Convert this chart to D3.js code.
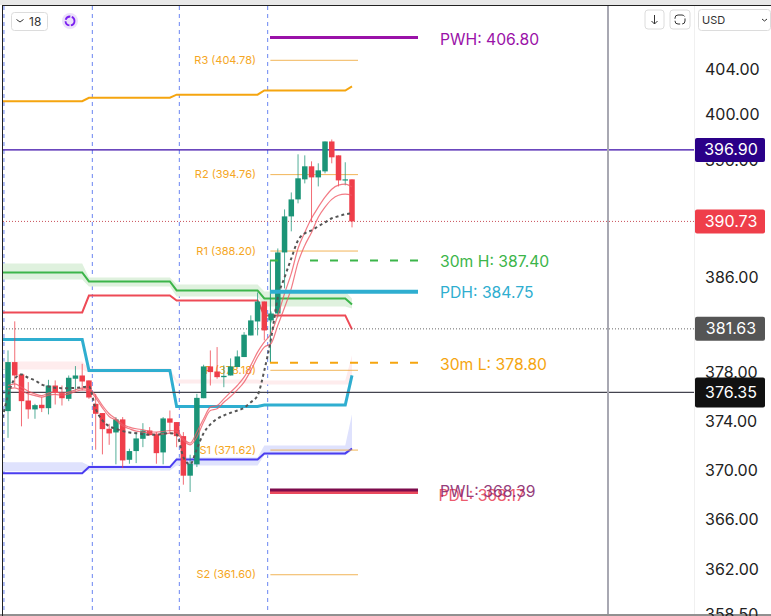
<!DOCTYPE html>
<html><head><meta charset="utf-8">
<script src="https://cdn.jsdelivr.net/npm/d3@7"></script>
<style>html,body{margin:0;padding:0;background:#fff}svg{display:block;font-family:Inter,"Noto Sans",sans-serif}</style>
</head><body><svg id="c" width="771" height="616"></svg>
<script>
const indexStart = 1;
const opens = [374.81,378.86,377.84,375.68,374.95,375.33,375.05,376.92,376.29,375.82,377.48,377.75,377.34,375.41,374.65,373.36,373.06,374.13,370.83,371.54,372.54,373.22,372.95,371.43,374.21,373.91,372.76,369.54,370.46,375.87,378.50,378.08,377.61,377.75,378.45,379.28,381.08,382.25,383.93,382.34,382.92,388.08,391.16,392.62,394.35,395.48,394.52,395.04,397.64,396.43,394.26,394.35];
const highs = [379.83,382.26,377.84,377.20,375.41,375.96,377.39,377.34,376.92,377.75,378.53,378.72,377.34,376.23,374.65,373.77,374.32,374.32,371.73,373.09,373.82,373.50,373.09,374.32,374.86,373.91,373.09,371.24,376.23,378.64,379.83,380.11,378.59,379.17,379.83,381.36,382.76,384.69,383.93,383.09,388.42,391.76,393.22,396.52,396.43,395.91,395.74,397.64,397.81,396.43,395.83,394.35];
const lows = [372.62,376.78,373.56,374.18,374.18,374.73,374.54,375.35,375.27,375.63,376.51,376.51,375.82,371.65,371.27,372.05,370.46,370.16,370.51,370.56,371.86,372.81,370.51,370.46,372.95,371.86,368.81,368.22,370.24,375.87,376.92,377.48,376.78,377.75,378.45,379.28,381.08,381.08,380.67,382.17,382.59,385.03,389.88,392.28,394.00,390.65,393.74,394.87,395.74,393.74,393.83,390.22];
const closes = [378.86,377.75,375.63,374.95,375.30,375.05,376.92,376.31,375.87,377.56,377.75,377.25,375.93,374.59,373.33,372.98,374.13,370.78,371.54,372.57,373.22,372.84,371.37,374.21,373.86,372.76,369.54,370.51,375.90,378.50,378.03,377.61,377.72,378.50,379.33,381.14,382.34,383.93,381.50,382.92,388.08,391.16,392.62,394.44,395.48,394.52,395.13,397.64,396.26,394.26,394.35,390.73];

const sessionBreaks = [0.4,13.5,26.4,39.5];
const stepIndex = [0,12,13,25,26,38,39,51,52];
const pivotOrange = [401.17,401.17,401.47,401.47,401.74,401.74,402.11,402.11,402.47];
const pivotGreen = [386.38,386.38,385.62,385.62,384.86,384.86,384.18,384.18,383.68];
const bandGreenTop = [387.15,387.15,385.96,385.96,385.37,385.37,384.77,384.77,384.18];
const bandGreenBottom = [385.79,385.79,385.20,385.20,384.35,384.35,383.51,383.51,383.34];
const pivotRed = [383.01,383.01,384.43,384.43,384.01,384.01,382.76,382.76,381.59];
const pivotCyan = [380.75,380.75,378.17,378.17,375.19,375.19,375.31,375.31,377.76];
const pivotBlue = [369.73,369.73,370.24,370.24,370.86,370.86,371.35,371.35,371.75];
const bandBlueTop = [370.62,370.62,370.37,370.37,371.02,371.02,372.00,372.00,374.55];
const bandBlueBottom = [369.89,369.89,369.97,369.97,370.37,370.37,371.19,371.19,371.59];
const bandPinkTop = [378.91,378.91,378.33,378.33,377.42,377.42,377.34,377.34,379.42];
const bandPinkBottom = [378.25,378.25,378.00,378.00,377.09,377.09,377.01,377.01,377.01];

const emaDark = [373.77,376.09,377.48,377.84,377.56,377.34,377.00,376.84,376.73,376.70,376.70,376.73,376.78,376.84,375.00,374.05,373.56,373.36,373.17,373.06,373.00,372.92,372.87,372.87,372.95,373.00,372.89,371.05,370.46,371.73,373.00,373.72,374.18,374.45,374.67,374.86,375.08,375.54,376.09,378.17,380.83,384.26,385.96,387.57,389.11,389.71,389.97,390.31,390.65,391.00,391.17,391.34,391.43];
const emaUpper = [376.92,377.06,376.78,376.45,376.23,376.09,376.29,376.37,376.29,376.37,376.56,376.70,376.64,376.09,375.27,374.59,374.18,373.72,373.50,373.36,373.28,373.14,373.09,373.14,373.22,373.17,372.54,372.19,373.09,374.18,375.14,375.27,375.82,376.37,376.92,377.61,378.59,379.69,380.53,381.25,382.76,384.60,386.30,388.42,389.79,391.00,391.95,392.81,393.50,393.85,393.94,393.68];
const emaLower = [376.64,376.73,376.51,376.23,376.09,375.96,376.12,376.18,376.12,376.23,376.42,376.56,376.51,375.90,375.08,374.37,374.05,373.58,373.36,373.17,373.09,373.00,372.89,372.95,373.00,372.95,372.41,372.05,372.68,373.91,374.86,375.00,375.54,376.01,376.56,377.20,378.17,379.28,380.11,380.41,381.92,383.42,385.03,387.23,388.68,389.79,391.08,391.95,392.62,392.98,393.07,392.98];

const pivotNames = ["R3","R2","R1","P","S1","S2"];
const pivotValues = [404.78,394.76,388.20,378.18,371.62,361.60];
const keyNames = ["PWH","30m H","PDH","30m L","PDL","PWL"];
const keyValues = [406.80,387.40,384.75,378.80,368.17,368.39];
const keyColors = ["#9a12a8","#3cb54a","#2faed0","#f5a50f","#ea4a5e","#7d0b4c"];
const keyLabelColors = ["#9a12a8","#3cb54a","#2faed0","#f5a50f","#ea4a5e","#8a2a6e"];
const keyDash = [null,"8 32 8 12 8 12 8 12 8 12 8 12 8 12","","8,12",null,null];
const keyWidths = [3,2,4,2,3,3];
const keyLabelShift = [1.5,1.5,1,1.5,3,1.5];
const keyLabelLeft = [440,440,440,440,438.5,440];
const priceTicks = [404,400,396,386,378,374,370,366,362,358.5];
const flagValues = [396.90,390.73,381.63,376.35];
const flagColors = ["#2a0088","#ef3e4a","#555555","#111111"];
const flagLine = ["#3a0aa8","#c8505a","#666666","#44444f"];
const flagDash = [null,"1,2","1,2",null];
const flagHeights = [24,24,24,30];

const GREEN="#1b9477", RED="#ef3e4a";
const svg=d3.select("#c");
const y=d3.scaleLog().domain([404,358.5]).range([69.1,614]);
const x=d3.scaleLinear().domain([1,52]).range([8,352]);

svg.append("defs").append("clipPath").attr("id","pl").append("rect").attr("x",3).attr("y",6).attr("width",692).attr("height",608);
const g=svg.append("g").attr("clip-path","url(#pl)");

// session separators
g.selectAll(".sess").data(sessionBreaks).join("line").attr("x1",x).attr("x2",x).attr("y1",6).attr("y2",614)
 .attr("stroke","#6a85f2").attr("stroke-width",1).attr("stroke-dasharray","4,4");

// bands
function band(top,bottom,fill){
 const a=d3.area().x((d,i)=>x(stepIndex[i])).y0((d,i)=>y(bottom[i])).y1(d=>y(d));
 g.append("path").attr("d",a(top)).attr("fill",fill);
}
band(bandGreenTop,bandGreenBottom,"#dff1de");
band(bandPinkTop,bandPinkBottom,"#feeced");
band(bandBlueTop,bandBlueBottom,"#dfe2fd");

const stepLine=d3.line().x((d,i)=>x(stepIndex[i])).y(d=>y(d));
[[pivotOrange,"#f5a50f",2],[pivotGreen,"#3cb54a",2],[pivotRed,"#ee4a56",2],[pivotCyan,"#2faed0",3],[pivotBlue,"#4a3df0",2]].forEach(([v,c,w])=>{
 g.append("path").attr("d",stepLine(v)).attr("fill","none").attr("stroke",c).attr("stroke-width",w);
});

// full-width price lines
g.selectAll(".flag").data(flagValues).join("line").attr("x1",0).attr("x2",695).attr("y1",y).attr("y2",y)
 .attr("stroke",(d,i)=>flagLine[i]).attr("stroke-width",(d,i)=>flagDash[i]?1:1.2).attr("stroke-dasharray",(d,i)=>flagDash[i]);

// pivot lines and labels sit under the candles
g.selectAll(".piv").data(pivotValues).join("line").attr("x1",x(39.9)).attr("x2",358).attr("y1",y).attr("y2",y)
 .attr("stroke","#f0a93c").attr("stroke-width",1).attr("opacity",.85);
g.selectAll(".pivT").data(pivotValues).join("text").attr("x",256).attr("y",d=>y(d)+3.5).attr("text-anchor","end")
 .attr("fill","#f5a623").attr("font-size",11).text((d,i)=>`${pivotNames[i]} (${d.toFixed(2)})`);

// range connector
g.append("line").attr("x1",x(39.9)).attr("x2",x(39.9)).attr("y1",y(387.40)).attr("y2",y(378.80)).attr("stroke",GREEN).attr("stroke-width",1);

// candles
const idx=d3.range(indexStart,indexStart+opens.length);
g.selectAll(".wick").data(idx).join("line").attr("x1",x).attr("x2",x)
 .attr("y1",i=>y(highs[i-1])).attr("y2",i=>y(lows[i-1]))
 .attr("stroke",i=>closes[i-1]>=opens[i-1]?GREEN:RED).attr("stroke-width",1).attr("opacity",.75);
g.selectAll(".body").data(idx).join("rect").attr("x",i=>x(i)-2.75).attr("width",5.5)
 .attr("y",i=>y(Math.max(opens[i-1],closes[i-1])))
 .attr("height",i=>Math.max(1.2,Math.abs(y(opens[i-1])-y(closes[i-1]))))
 .attr("fill",i=>closes[i-1]>=opens[i-1]?GREEN:RED);

// moving averages
const maLine=d3.line().x((d,i)=>x(i+1)).y(d=>y(d)).curve(d3.curveMonotoneX);
g.append("path").attr("d",maLine(emaUpper)).attr("fill","none").attr("stroke","#ef5a66").attr("stroke-width",1.2).attr("opacity",.8);
g.append("path").attr("d",maLine(emaLower)).attr("fill","none").attr("stroke","#ef5a66").attr("stroke-width",1.2).attr("opacity",.8);
const maDark=d3.line().x((d,i)=>x(i)).y(d=>y(d)).curve(d3.curveMonotoneX);
g.append("path").attr("d",maDark(emaDark)).attr("fill","none").attr("stroke","#555").attr("stroke-width",2).attr("stroke-dasharray","3,3");

// key levels
g.selectAll(".key").data(keyValues).join("line").attr("x1",270).attr("x2",418).attr("y1",y).attr("y2",y)
 .attr("stroke",(d,i)=>keyColors[i]).attr("stroke-width",(d,i)=>keyWidths[i]).attr("stroke-dasharray",(d,i)=>keyDash[i]);

svg.selectAll(".keyT").data(keyValues).join("text").attr("x",(d,i)=>keyLabelLeft[i]).attr("y",(d,i)=>y(d)+5.5+keyLabelShift[i])
 .attr("fill",(d,i)=>keyLabelColors[i]).attr("font-size",15.7).attr("opacity",(d,i)=>i>=4?.9:1)
 .text((d,i)=>`${keyNames[i]}: ${d.toFixed(2)}`);

// frame
svg.append("rect").attr("x",0).attr("y",0).attr("width",771).attr("height",5).attr("fill","#e8e8e8");
svg.append("line").attr("x1",2).attr("x2",771).attr("y1",5.5).attr("y2",5.5).attr("stroke","#222");
svg.append("line").attr("x1",2.5).attr("x2",2.5).attr("y1",5).attr("y2",616).attr("stroke","#222");
svg.append("line").attr("x1",0).attr("x2",771).attr("y1",615).attr("y2",615).attr("stroke","#222");
svg.append("line").attr("x1",608).attr("x2",608).attr("y1",6).attr("y2",614).attr("stroke","#a8a8b2").attr("stroke-width",2);
svg.append("line").attr("x1",694.5).attr("x2",694.5).attr("y1",6).attr("y2",614).attr("stroke","#f0f0f0");

// price axis
const ax=svg.append("g").attr("transform","translate(705,0)").call(d3.axisRight(y).tickValues(priceTicks).tickSize(0).tickPadding(0).tickFormat(d=>d.toFixed(2)));
ax.select(".domain").remove();
ax.selectAll("text").attr("font-size",16).attr("font-family","Inter").attr("fill","#222");

// price flags
const flags=svg.selectAll(".fl").data(flagValues).join("g");
flags.append("rect").attr("x",695).attr("width",70).attr("rx",2).attr("y",(d,i)=>y(d)-flagHeights[i]/2).attr("height",(d,i)=>flagHeights[i]).attr("fill",(d,i)=>flagColors[i]);
flags.append("text").attr("x",731).attr("y",d=>y(d)+5.5).attr("text-anchor","middle").attr("fill","#fff").attr("font-size",16).text(d=>d.toFixed(2));

// toolbar
const box=(bx,by,w,h)=>svg.append("rect").attr("x",bx).attr("y",by).attr("width",w).attr("height",h).attr("rx",3).attr("fill","#fff").attr("stroke","#dcdcdc");
box(11.5,12.5,36,18);
svg.append("path").attr("d","M16.5 19.5l3.5 2.5 3.5-2.5").attr("fill","none").attr("stroke","#333").attr("stroke-width",1);
svg.append("text").attr("x",29).attr("y",26).attr("font-size",12).attr("fill","#333").text("18");
svg.append("circle").attr("cx",70).attr("cy",21).attr("r",8).attr("fill","#ebe0fa");
svg.append("circle").attr("cx",70).attr("cy",21).attr("r",4.5).attr("fill","none").attr("stroke","#7a1ff0").attr("stroke-width",1.8).attr("stroke-dasharray","6,1.5");
box(645,10,19,19);
svg.append("path").attr("d","M654.5 15v9m-3-3l3 3 3-3").attr("fill","none").attr("stroke","#333");
box(670,10,20,19);
svg.append("rect").attr("x",675).attr("y",15).attr("width",10).attr("height",9).attr("rx",3).attr("fill","none").attr("stroke","#333").attr("stroke-dasharray","7,2");
box(698.5,9.5,72,21);
svg.append("text").attr("x",702).attr("y",24).attr("font-size",11).attr("fill","#333").text("USD");
svg.append("path").attr("d","M762 19l2.5 2 2.5-2").attr("fill","none").attr("stroke","#333");
</script></body></html>
